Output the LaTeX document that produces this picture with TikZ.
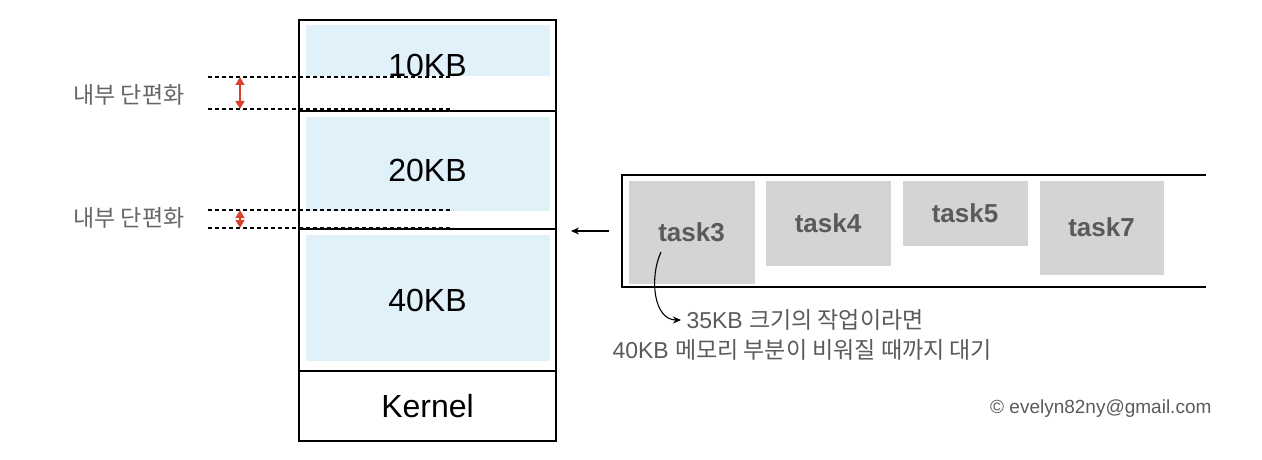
\documentclass[tikz,border=0pt]{standalone}
\usepackage{fontspec}
\setmainfont{Liberation Sans}
\newfontfamily\kr{Noto Sans CJK KR}
\usetikzlibrary{arrows.meta,positioning}
\definecolor{memblue}{HTML}{E1F1F9}
\definecolor{taskgray}{HTML}{D4D4D4}
\definecolor{fragred}{HTML}{D9412B}
\definecolor{txtgray}{HTML}{5A5A5A}
\definecolor{labelgray}{HTML}{666666}

\begin{document}
\begin{tikzpicture}[x=1pt, y=-1pt, line width=1.1pt,
  part/.style = {draw, minimum width=257pt, inner sep=0pt, outer sep=0pt, font=\fontsize{32}{32}\selectfont},
  task/.style = {fill=taskgray, anchor=north west, inner sep=0pt, text=txtgray, font=\fontsize{26}{26}\selectfont\bfseries},
  cut/.style = {dash pattern=on 4pt off 3pt, line width=1.3pt},
  gap/.style = {{Triangle[length=8pt,width=9pt]}-{Triangle[length=8pt,width=9pt]}, fragred, line width=1.6pt},
  note/.style = {text=txtgray, inner sep=0pt, font=\fontsize{23}{23}\selectfont},
  arr/.style = {-{Stealth[length=8pt,width=7pt]}}]
\useasboundingbox (0,0) rectangle (1262,460);

\fill[memblue] (306,25) rectangle (550,76);
\fill[memblue] (306,117) rectangle (550,211);
\fill[memblue] (306,235) rectangle (550,361);

\node[part, minimum height=91pt, anchor=north west] (part10) at (299,20) {10KB};
\node[part, minimum height=118pt, below=0pt of part10] (part20) {20KB};
\node[part, minimum height=142pt, below=0pt of part20] (part40) {40KB};
\node[part, minimum height=70pt, below=0pt of part40] (kernel) {Kernel};

\foreach \y [count=\i] in {77,109,210,228} {
  \coordinate (cutL\i) at (208,\y);
  \coordinate (cutR\i) at (453,\y);
  \coordinate (gap\i) at (240,\y);
  \draw[cut] (cutL\i) -- (cutR\i);
}
\draw[gap] (gap1) -- (gap2);
\draw[gap] (gap3) -- (gap4);

\node[note, text=labelgray] (frag1) at (129,95) {\kr 내부 단편화};
\node[note, text=labelgray] (frag2) at (129,218) {\kr 내부 단편화};

\coordinate (queueTR) at (1206,175);
\coordinate (queueTL) at (622,175);
\coordinate (queueBL) at (622,287);
\coordinate (queueBR) at (1206,287);
\draw (queueTR) -- (queueTL) -- (queueBL) -- (queueBR);

\node[task, minimum width=126pt, minimum height=103pt] (task3) at (628,180) {task3};
\node[task, minimum width=125pt, minimum height=85pt] (task4) at (765,180) {task4};
\node[task, minimum width=125pt, minimum height=65pt] (task5) at (902,180) {task5};
\node[task, minimum width=124pt, minimum height=94pt] (task7) at (1039,180) {task7};

\coordinate (enterS) at (609,231);
\coordinate (enterE) at (571,231);
\draw[arr] (enterS) -- (enterE);

\node[note, anchor=west] (wait1) at (686,320) {35KB {\kr 크기의 작업이라면}};
\node[note, anchor=west] (wait2) at (612,350) {40KB {\kr 메모리 부분이 비워질 때까지 대기}};
\coordinate (waitS) at (661,252);
\draw[arr] (waitS) to[out=245, in=180] ([xshift=-5pt]wait1.west);

\node[note, anchor=east, font=\fontsize{19}{19}\selectfont] (copy) at (1212,409) {© evelyn82ny@gmail.com};
\end{tikzpicture}
\end{document}
